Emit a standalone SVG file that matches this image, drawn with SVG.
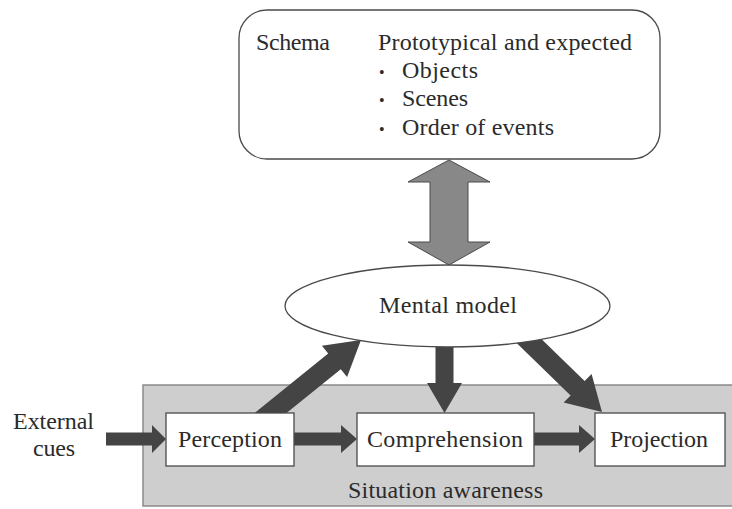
<svg xmlns="http://www.w3.org/2000/svg" width="732" height="509" viewBox="0 0 732 509">
  <style>
    .lbl { font-family: "Liberation Serif", "Times New Roman", serif; font-size: 24px; fill: #2b2b2b; }
    .dot { font-family: "Liberation Serif", "Times New Roman", serif; font-size: 16px; fill: #2b2b2b; }
    .box { fill: #ffffff; stroke: #4a4a4a; stroke-width: 1.3; }
    .flow { fill: #444444; stroke: none; }
    .link { fill: #888888; stroke: #4a4a4a; stroke-width: 1; }
  </style>

  <rect width="732" height="509" fill="#ffffff"/>

  <!-- Situation awareness panel -->
  <g id="situation-awareness">
    <rect x="143" y="385" width="592" height="121" fill="#cecece" stroke="#8a8a8a" stroke-width="1.5"/>
    <text class="lbl" x="348" y="498" textLength="195" lengthAdjust="spacing">Situation awareness</text>
  </g>

  <!-- Connectors -->
  <g id="connectors">
    <!-- schema <-> mental model -->
    <polygon class="link" points="449,160 490,182 468,182 468,242 490,242 449,265 408,242 430,242 430,182 408,182"/>
    <!-- external cues -> perception -->
    <polygon class="flow" points="106,432.5 152,432.5 152,425 166,439 152,453 152,445.5 106,445.5"/>
    <!-- perception -> comprehension -->
    <polygon class="flow" points="294,432.5 341,432.5 341,425 357,439 341,453 341,445.5 294,445.5"/>
    <!-- comprehension -> projection -->
    <polygon class="flow" points="534,432.5 579,432.5 579,425 595,439 579,453 579,445.5 534,445.5"/>
    <!-- perception -> mental model -->
    <polygon class="flow" points="249.7,417 328.2,353.6 321.9,345.8 361,340 347.1,377 340.8,369.2 262.3,432.6"/>
    <!-- mental model -> comprehension -->
    <polygon class="flow" points="435.5,330 453.5,330 453.5,383 462,383 444.5,413 427,383 435.5,383"/>
    <!-- mental model -> projection -->
    <polygon class="flow" points="526.5,324.5 584.6,381.1 591.6,374 602,412 563.6,402.6 570.6,395.5 512.5,338.9"/>
  </g>

  <!-- Schema -->
  <g id="schema">
    <rect class="box" x="239" y="10" width="421" height="149" rx="28" ry="28"/>
    <text class="lbl" x="256" y="50" textLength="74" lengthAdjust="spacing">Schema</text>
    <text class="lbl" x="378" y="50" textLength="254" lengthAdjust="spacing">Prototypical and expected</text>
    <text class="dot" x="379" y="78">•</text>
    <text class="lbl" x="402" y="78" textLength="76" lengthAdjust="spacing">Objects</text>
    <text class="dot" x="379" y="106">•</text>
    <text class="lbl" x="402" y="106" textLength="66" lengthAdjust="spacing">Scenes</text>
    <text class="dot" x="379" y="135">•</text>
    <text class="lbl" x="402" y="135" textLength="152" lengthAdjust="spacing">Order of events</text>
  </g>

  <!-- Mental model -->
  <g id="mental-model">
    <ellipse class="box" cx="447.5" cy="306" rx="162.5" ry="41"/>
    <text class="lbl" x="379" y="313" textLength="138" lengthAdjust="spacing">Mental model</text>
  </g>

  <!-- External cues -->
  <g id="external-cues">
    <text class="lbl" x="13" y="429" textLength="81" lengthAdjust="spacing">External</text>
    <text class="lbl" x="33" y="456" textLength="42" lengthAdjust="spacing">cues</text>
  </g>

  <!-- Perception -->
  <g id="perception">
    <rect class="box" x="166" y="413" width="128" height="53"/>
    <text class="lbl" x="178" y="447" textLength="104" lengthAdjust="spacing">Perception</text>
  </g>

  <!-- Comprehension -->
  <g id="comprehension">
    <rect class="box" x="357" y="413" width="177" height="53"/>
    <text class="lbl" x="367" y="447" textLength="156" lengthAdjust="spacing">Comprehension</text>
  </g>

  <!-- Projection -->
  <g id="projection">
    <rect class="box" x="595" y="413" width="130" height="53"/>
    <text class="lbl" x="610" y="447" textLength="98" lengthAdjust="spacing">Projection</text>
  </g>
</svg>
